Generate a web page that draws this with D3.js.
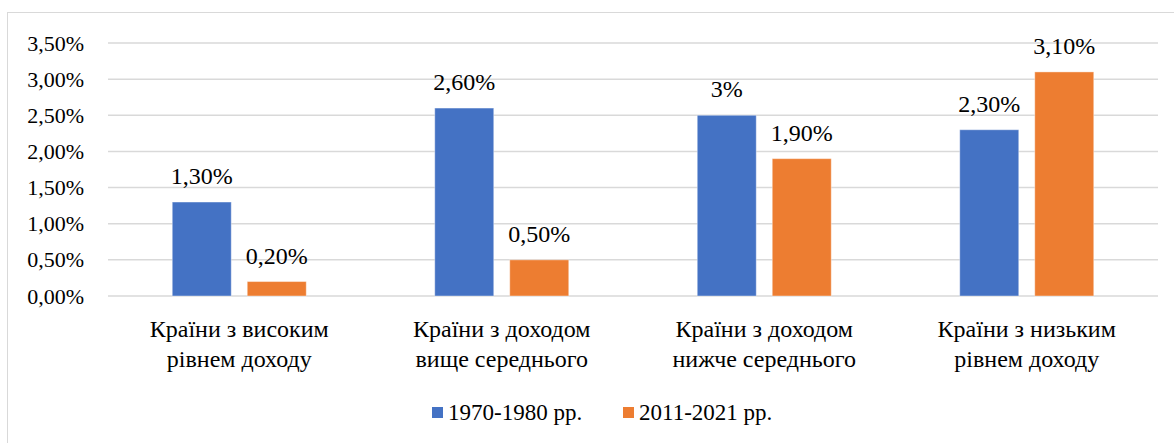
<!DOCTYPE html>
<meta charset="utf-8">
<script src="https://d3js.org/d3.v7.js"></script>
<div id="chart"></div>
<script>

var categories = [
  ["Країни з високим", "рівнем доходу"],
  ["Країни з доходом", "вище середнього"],
  ["Країни з доходом", "нижче середнього"],
  ["Країни з низьким", "рівнем доходу"]
];
var seriesNames = ["1970-1980 рр.", "2011-2021 рр."];
var series1 = [1.3, 2.6, 2.5, 2.3];
var series2 = [0.2, 0.5, 1.9, 3.1];
var labels1 = ["1,30%", "2,60%", "3%", "2,30%"];
var labels2 = ["0,20%", "0,50%", "1,90%", "3,10%"];
var yTicks = [0, 0.5, 1, 1.5, 2, 2.5, 3, 3.5];
var colors = ["#4472C4", "#ED7D31"];

var FONT = "Liberation Serif";

var W = 1174, H = 443;
var margin = {top: 43, right: 16, bottom: 147, left: 108},
    width = W - margin.left - margin.right,
    height = H - margin.top - margin.bottom;

d3.select("body").style("margin", "0px");

var root = d3.select("#chart").append("svg")
    .attr("width", W)
    .attr("height", H)
    .attr("font-family", FONT)
    .style("font-family", FONT);

// outer chart border
root.append("rect")
  .attr("x", 7.5).attr("y", 12.5)
  .attr("width", W).attr("height", H)
  .attr("fill", "none")
  .attr("stroke", "#d9d9d9")
  .attr("stroke-width", 1);

var svg = root.append("g")
  .attr("transform", "translate(" + margin.left + "," + margin.top + ")");

var x = d3.scaleBand()
  .domain(d3.range(categories.length))
  .range([0, width]);

var y = d3.scaleLinear()
  .domain([0, 3.5])
  .range([height, 0]);

// gridlines
svg.append("g")
  .selectAll("line")
  .data(yTicks)
  .enter().append("line")
    .attr("x1", 0).attr("x2", width)
    .attr("y1", function(d) { return y(d); })
    .attr("y2", function(d) { return y(d); })
    .attr("stroke", "#d9d9d9")
    .attr("stroke-width", 1.5);

// y axis labels
var yAxis = svg.append("g")
  .call(d3.axisLeft(y).tickValues(yTicks).tickSize(0).tickPadding(24)
    .tickFormat(function(d) { return d.toFixed(2).replace(".", ",") + "%"; }));
yAxis.attr("font-family", FONT).attr("font-size", 22);
yAxis.select(".domain").remove();
yAxis.selectAll("text")
  .attr("fill", "#000")
  .attr("font-family", FONT)
  .style("font-family", FONT);

var barW = 59, gap = 16;
var data = categories.map(function(c, i) {
  return [
    {i: i, s: 0, v: series1[i], label: labels1[i]},
    {i: i, s: 1, v: series2[i], label: labels2[i]}
  ];
});
var flat = [].concat.apply([], data);

function barX(d) {
  var c = x(d.i) + x.bandwidth() / 2;
  return d.s === 0 ? c - gap / 2 - barW : c + gap / 2;
}

svg.selectAll("rect.bar")
  .data(flat)
  .enter().append("rect")
    .attr("class", "bar")
    .attr("x", barX)
    .attr("y", function(d) { return y(d.v); })
    .attr("width", barW)
    .attr("height", function(d) { return height - y(d.v); })
    .attr("fill", function(d) { return colors[d.s]; })
    .attr("stroke", "#fff")
    .attr("stroke-opacity", 0.4)
    .attr("stroke-width", 1);

svg.selectAll("text.dl")
  .data(flat)
  .enter().append("text")
    .attr("class", "dl")
    .attr("x", function(d) { return barX(d) + barW / 2; })
    .attr("y", function(d) { return y(d.v) - 18; })
    .attr("text-anchor", "middle")
    .attr("font-size", 24)
    .attr("font-family", FONT)
    .style("font-family", FONT)
    .text(function(d) { return d.label; });

// category labels, one text per line
var catG = svg.selectAll("g.cat")
  .data(categories)
  .enter().append("g")
    .attr("class", "cat")
    .attr("transform", function(d, i) {
      return "translate(" + (x(i) + x.bandwidth() / 2) + "," + (height + 41) + ")";
    });
catG.selectAll("text")
  .data(function(d) { return d; })
  .enter().append("text")
    .attr("x", 0)
    .attr("y", function(d, j) { return j * 30; })
    .attr("text-anchor", "middle")
    .attr("font-size", 24)
    .attr("font-family", FONT)
    .style("font-family", FONT)
    .text(function(d) { return d; });

// legend
var legendPos = [432, 623];
var legend = root.append("g").selectAll("g")
  .data(seriesNames)
  .enter().append("g")
    .attr("transform", function(d, i) { return "translate(" + legendPos[i] + ",420)"; });
legend.append("rect")
  .attr("x", 0).attr("y", -13)
  .attr("width", 11).attr("height", 11)
  .attr("fill", function(d, i) { return colors[i]; });
legend.append("text")
  .attr("x", 16).attr("y", 0)
  .attr("font-size", 23)
  .attr("font-family", FONT)
  .style("font-family", FONT)
  .text(function(d) { return d; });

</script>
